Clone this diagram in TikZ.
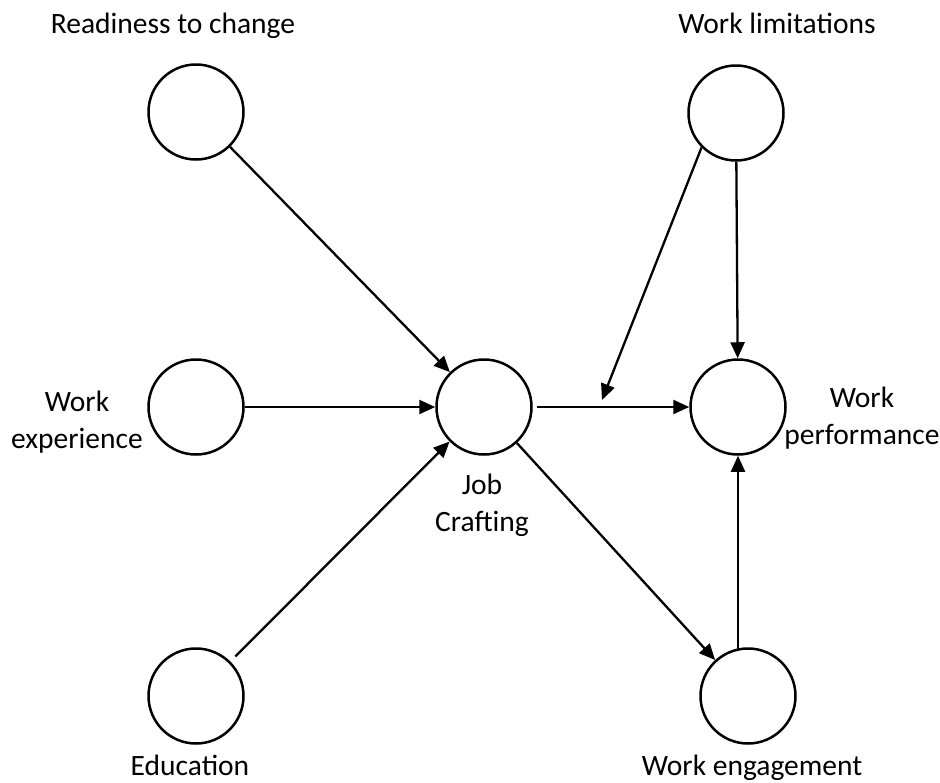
\documentclass[tikz,border=0pt]{standalone}
\usepackage{fontspec}
\setmainfont{Carlito}
\usetikzlibrary{arrows.meta}
\usetikzlibrary{calc}

\begin{document}
\begin{tikzpicture}[x=1pt, y=-1pt,
        latent/.style={draw=black, circle, line width=2.5pt, minimum size=95pt, inner sep=0pt},
        label/.style={anchor=base, align=center, inner sep=0pt, font=\fontsize{29.5}{37}\selectfont},
        path/.style={line width=2.3pt, -{Triangle[length=16pt, width=14pt]}}]
        \useasboundingbox (0,0) rectangle (940,782);

        % constructs
        \node[latent] (readiness) at (196,112) {};
        \node[latent] (experience) at (196,407) {};
        \node[latent] (education) at (196,696) {};
        \node[latent] (crafting) at (484,407) {};
        \node[latent] (limitations) at (736,113) {};
        \node[latent] (performance) at (738,407) {};
        \node[latent] (engagement) at (748,696) {};

        % labels (base = last line)
        \node[label] (readiness-label) at (173,33) {Readiness to change};
        \node[label] (limitations-label) at (777,33) {Work limitations};
        \node[label] (experience-label) at (77,448) {Work\\experience};
        \node[label] (crafting-label) at (482,531) {Job\\Crafting};
        \node[label] (performance-label) at (862,444) {Work\\performance};
        \node[label] (education-label) at (190,775) {Education};
        \node[label] (engagement-label) at (752,775) {Work engagement};

        % moderation point on the crafting path
        \coordinate (moderation) at (602,400);

        % paths
        \draw[path] (readiness) -- (crafting);
        \draw[path] (experience) -- (crafting);
        \draw[path, shorten <=7pt] (education) -- (crafting);
        \draw[path, shorten <=4pt] (crafting) -- (performance);
        \draw[path] (crafting) -- (engagement);
        \draw[path] (limitations) -- (performance);
        \draw[path] (limitations.225) -- (moderation);
        \draw[path, shorten <=-4pt] (performance |- engagement.north) -- (performance);

    \end{tikzpicture}
\end{document}
